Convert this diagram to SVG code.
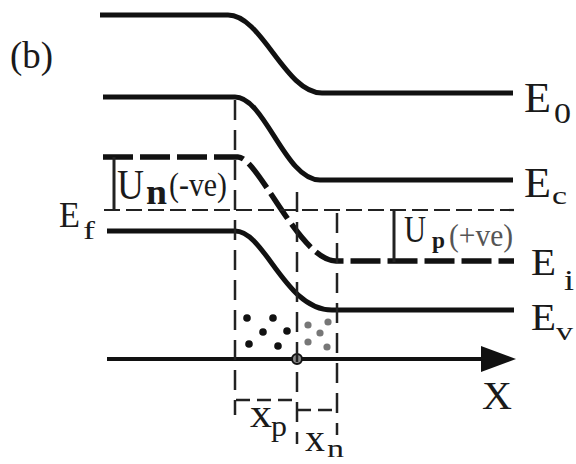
<svg xmlns="http://www.w3.org/2000/svg" width="576" height="464" viewBox="0 0 576 464" font-family="'Liberation Serif', 'DejaVu Serif', 'Times New Roman', 'Noto Serif', serif">
<style>
.band{fill:none;stroke:#111;stroke-width:5;stroke-linecap:butt}
.ei{fill:none;stroke:#111;stroke-width:5.5;stroke-dasharray:30 7}
.ef{fill:none;stroke:#222;stroke-width:2.2;stroke-dasharray:16 6}
.vd{fill:none;stroke:#222;stroke-width:2.5;stroke-dasharray:20 10}
.bd{fill:none;stroke:#222;stroke-width:2.5;stroke-dasharray:14 7}
.bar{stroke:#222;stroke-width:3}
.dp{fill:#111}
.dn{fill:#777}
</style>
<defs>
<marker id="arr" markerWidth="36" markerHeight="26" refX="1" refY="13" orient="auto" markerUnits="userSpaceOnUse">
<path d="M0,0 L35,13 L0,26 Z" fill="#111"/>
</marker>
</defs>
<rect width="576" height="464" fill="#fff"/>
<g id="label-b" fill="#1a1a1a"><text x="10" y="68" font-size="38" textLength="43" lengthAdjust="spacingAndGlyphs">(b)</text></g>
<g id="E0" fill="#1a1a1a">
<path class="band" d="M100,15 H228 C262,15 285,93 322,93 H513"/>
<text x="524" y="112" font-size="42" textLength="27" lengthAdjust="spacingAndGlyphs">E</text>
<text x="554" y="123" font-size="30" textLength="17" lengthAdjust="spacingAndGlyphs">0</text>
</g>
<g id="Ec" fill="#1a1a1a">
<path class="band" d="M103,97 H235 C265,97 285,180 320,180 H513"/>
<text x="524" y="197" font-size="42" textLength="27" lengthAdjust="spacingAndGlyphs">E</text>
<text x="552" y="204" font-size="26" textLength="15" lengthAdjust="spacingAndGlyphs">c</text>
</g>
<g id="Ei" fill="#1a1a1a">
<path class="ei" d="M103,157 H238 C258,157 300,261 336,261 H514"/>
<text x="531" y="275" font-size="38" textLength="25" lengthAdjust="spacingAndGlyphs">E</text>
<text x="564" y="290" font-size="30" textLength="10" lengthAdjust="spacingAndGlyphs">i</text>
</g>
<g id="Ef" fill="#1a1a1a">
<path class="ef" d="M104,210 H514"/>
<text x="59" y="227" font-size="35" textLength="21" lengthAdjust="spacingAndGlyphs">E</text>
<text x="83" y="239" font-size="26" textLength="12" lengthAdjust="spacingAndGlyphs">f</text>
</g>
<g id="Ev" fill="#1a1a1a">
<path class="band" d="M107,231 H235 C265,231 285,310 332,310 H514"/>
<text x="531" y="330" font-size="38" textLength="25" lengthAdjust="spacingAndGlyphs">E</text>
<text x="556" y="340" font-size="26" textLength="17" lengthAdjust="spacingAndGlyphs">v</text>
</g>
<g id="Un" fill="#1a1a1a">
<line class="bar" x1="114" y1="157" x2="114" y2="211"/>
<text x="117" y="199" font-size="42" textLength="27" lengthAdjust="spacingAndGlyphs">U</text>
<text x="146" y="204" font-size="36" font-weight="bold" textLength="21" lengthAdjust="spacingAndGlyphs">n</text>
<text x="169" y="196" font-size="34" textLength="58" lengthAdjust="spacingAndGlyphs">(-ve)</text>
</g>
<g id="Up" fill="#1a1a1a">
<line class="bar" x1="394" y1="209" x2="394" y2="262"/>
<text x="404" y="242" font-size="37" textLength="22" lengthAdjust="spacingAndGlyphs">U</text>
<text x="432" y="248" font-size="24" font-weight="bold" textLength="13" lengthAdjust="spacingAndGlyphs">p</text>
<text x="449" y="246" font-size="32" textLength="64" lengthAdjust="spacingAndGlyphs" fill="#555">(+ve)</text>
</g>
<g id="charges">
<circle class="dp" cx="247" cy="318" r="3.8"/>
<circle class="dp" cx="273" cy="318" r="3.8"/>
<circle class="dp" cx="263" cy="332" r="3.8"/>
<circle class="dp" cx="287" cy="331" r="3.8"/>
<circle class="dp" cx="249" cy="344" r="3.8"/>
<circle class="dp" cx="278" cy="346" r="3.8"/>
<circle class="dn" cx="308" cy="325" r="3.6"/>
<circle class="dn" cx="328" cy="322" r="3.6"/>
<circle class="dn" cx="320" cy="333" r="3.6"/>
<circle class="dn" cx="308" cy="342" r="3.6"/>
<circle class="dn" cx="327" cy="347" r="3.6"/>
</g>
<g id="axis" fill="#1a1a1a">
<line x1="107" y1="359" x2="482" y2="359" stroke="#111" stroke-width="4" marker-end="url(#arr)"/>
<circle cx="297" cy="359" r="5" fill="#888" stroke="#111" stroke-width="2"/>
<text x="482" y="409" font-size="40" textLength="30" lengthAdjust="spacingAndGlyphs">X</text>
</g>
<g id="connectors">
<path class="vd" d="M235,100 V415"/>
<path class="vd" d="M297,192 V444"/>
<path class="vd" d="M337,213 V435"/>
<path class="bd" d="M236,400 H297"/>
<path class="bd" d="M297,410 H337"/>
</g>
<g id="xp" fill="#1a1a1a">
<text x="250" y="427" font-size="40" textLength="22" lengthAdjust="spacingAndGlyphs">x</text>
<text x="271" y="436" font-size="30" textLength="16" lengthAdjust="spacingAndGlyphs">p</text>
</g>
<g id="xn" fill="#1a1a1a">
<text x="305" y="451" font-size="38" textLength="20" lengthAdjust="spacingAndGlyphs">x</text>
<text x="327" y="457" font-size="26" textLength="17" lengthAdjust="spacingAndGlyphs">n</text>
</g>
</svg>
